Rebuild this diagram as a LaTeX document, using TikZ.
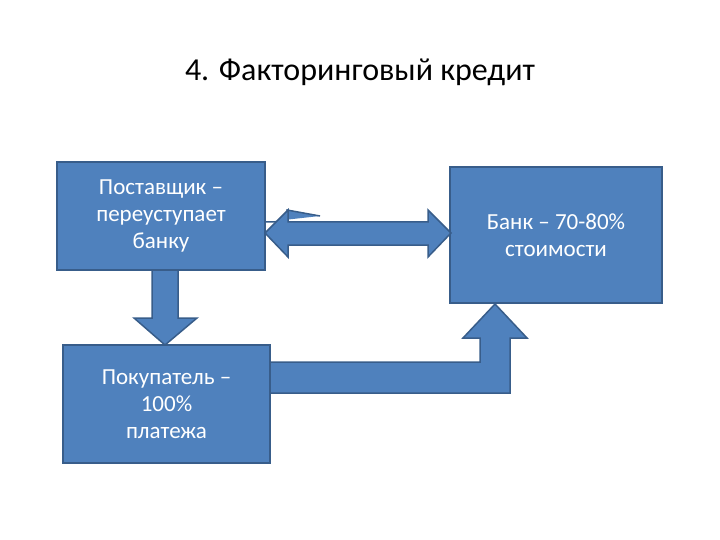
\documentclass[tikz,border=0pt]{standalone}
\usepackage{fontspec}
\setmainfont{Carlito}
\begin{document}
\begin{tikzpicture}[x=1pt,y=-1pt,
  box/.style={draw=boxline,line width=1.5pt,fill=boxfill,text=white,align=center,inner sep=0pt,font=\fontsize{23}{27}\selectfont},
  arr/.style={draw=boxline,line width=1.5pt,fill=boxfill,line join=miter}]
\definecolor{boxfill}{HTML}{4F81BD}
\definecolor{boxline}{HTML}{385D8A}
\useasboundingbox (0,0) rectangle (720,540);
\node[font=\fontsize{32}{38}\selectfont] (title) at (360,72) {4. Факторинговый кредит};
\node[box,minimum width=208,minimum height=108] (a) at (161,216) {Поставщик –\\переуступает\\банку};
\node[box,minimum width=212,minimum height=136] (b) at (556,235) {Банк – 70-80\%\\стоимости};
\node[box,minimum width=207,minimum height=118] (c) at (166.5,404) {Покупатель –\\100\%\\платежа};
% double arrow
\draw[arr] (a.east |- 0,222) -- (287,222) -- (287,210) -- (a.east -| 320,0) ++(0,0) ;
\draw[arr] (265,233) -- (288,210) -- (288,222) -- (428,222) -- (428,210) -- (451,233) -- (428,257) -- (428,245) -- (288,245) -- (288,257) -- cycle;
% down arrow
\draw[arr] (152,270) -- (178,270) -- (178,318) -- (197,318) -- (165,345) -- (134,318) -- (152,318) -- cycle;
% elbow arrow
\draw[arr] (270,362) -- (480,362) -- (480,338) -- (463,338) -- (495,304) -- (527,338) -- (510,338) -- (510,393) -- (270,393) -- cycle;
\end{tikzpicture}
\end{document}
